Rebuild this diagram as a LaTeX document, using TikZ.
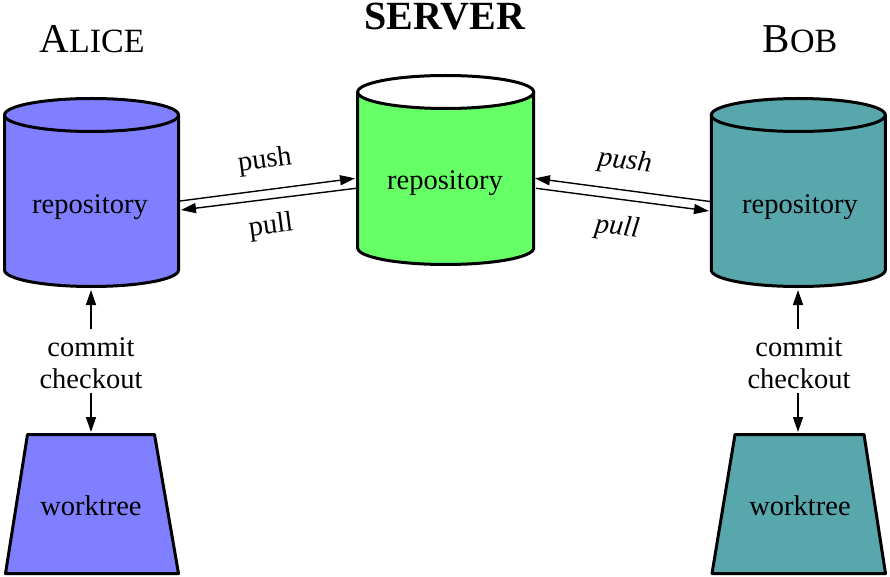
\documentclass[tikz,border=0pt]{standalone}
\usepackage{fontspec}
\setmainfont{Liberation Serif}
\usetikzlibrary{arrows.meta}
\definecolor{alicecol}{RGB}{127,127,255}
\definecolor{servercol}{RGB}{102,255,102}
\definecolor{bobcol}{RGB}{87,167,173}
\newcommand\mycyl[7]{% cx, top y, bottom y, rx, ry, body colour, top colour
  \filldraw[shapeline, fill=#6] (#1-#4,#2) -- (#1-#4,#3)
    arc[start angle=180, end angle=360, x radius=#4pt, y radius=#5pt]
    -- (#1+#4,#2) -- cycle;
  \filldraw[shapeline, fill=#7] (#1,#2) ellipse [x radius=#4pt, y radius=#5pt];
}
\begin{document}
\begin{tikzpicture}[x=1pt,y=-1pt,
  shapeline/.style={line width=3pt, line join=round},
  label/.style={font=\rmfamily\fontsize{28.5}{32}\selectfont, inner sep=0pt, align=center},
  title/.style={font=\rmfamily\fontsize{41}{44}\selectfont, inner sep=0pt, anchor=base},
  conn/.style={line width=1.4pt, -{Triangle[length=15pt,width=10pt]}}]
\useasboundingbox (0,0) rectangle (890,577);

% cylinders
\mycyl{91.5}{115}{270}{87}{16.5}{alicecol}{alicecol}
\mycyl{445.7}{92}{248}{88}{16.5}{servercol}{white}
\mycyl{798.3}{115}{270}{87}{16.5}{bobcol}{bobcol}

% worktrees
\filldraw[shapeline, fill=alicecol] (27.5,434.5) -- (154.5,434.5) -- (178.5,573.5) -- (5.5,573.5) -- cycle;
\filldraw[shapeline, fill=bobcol] (735,434.5) -- (864,434.5) -- (885.5,573.5) -- (712,573.5) -- cycle;

% titles
\node[title] (alice) at (92,53) {A{\fontsize{34}{36}\selectfont LICE}};
\node[title, font=\rmfamily\fontsize{40}{44}\selectfont\bfseries] (server) at (445,30) {SERVER};
\node[title] (bob) at (800,53) {B{\fontsize{34}{36}\selectfont OB}};

% text in shapes
\node[label] (aliceRepo) at (90,207) {repository};
\node[label] (serverRepo) at (445,183) {repository};
\node[label] (bobRepo) at (800,207) {repository};
\node[label] (aliceWork) at (91,506) {worktree};
\node[label] (bobWork) at (800,506) {worktree};

% connector end points
\coordinate (aR1) at (180,201);
\coordinate (aR2) at (181,210);
\coordinate (sL1) at (355,178.3);
\coordinate (sL2) at (356,188.3);
\coordinate (sR1) at (535,178.3);
\coordinate (sR2) at (536,188.3);
\coordinate (bL1) at (710,201.5);
\coordinate (bL2) at (709,211);

\draw[conn] (aR1) -- (sL1);
\draw[conn] (sL2) -- (aR2);
\draw[conn] (bL1) -- (sR1);
\draw[conn] (sR2) -- (bL2);

\node[label, rotate=7.5] (alicePush) at (265,161) {push};
\node[label, rotate=7.5] (alicePull) at (271,227) {pull};
\node[label, rotate=-7, font=\rmfamily\fontsize{28.5}{32}\selectfont\itshape] (bobPush) at (625,162) {push};
\node[label, rotate=-7, font=\rmfamily\fontsize{28.5}{32}\selectfont\itshape] (bobPull) at (617,228) {pull};

% commit / checkout
\node[label] (aliceCC) at (91,363) {commit\\checkout};
\node[label] (bobCC) at (799,363) {commit\\checkout};
\coordinate (aUp) at (91,329);
\coordinate (aUpTip) at (91,290);
\coordinate (aDn) at (91,393);
\coordinate (aDnTip) at (91,432);
\coordinate (bUp) at (798,329);
\coordinate (bUpTip) at (798,290);
\coordinate (bDn) at (798,393);
\coordinate (bDnTip) at (798,432);
\draw[conn] (aUp) -- (aUpTip);
\draw[conn] (aDn) -- (aDnTip);
\draw[conn] (bUp) -- (bUpTip);
\draw[conn] (bDn) -- (bDnTip);
\end{tikzpicture}
\end{document}
